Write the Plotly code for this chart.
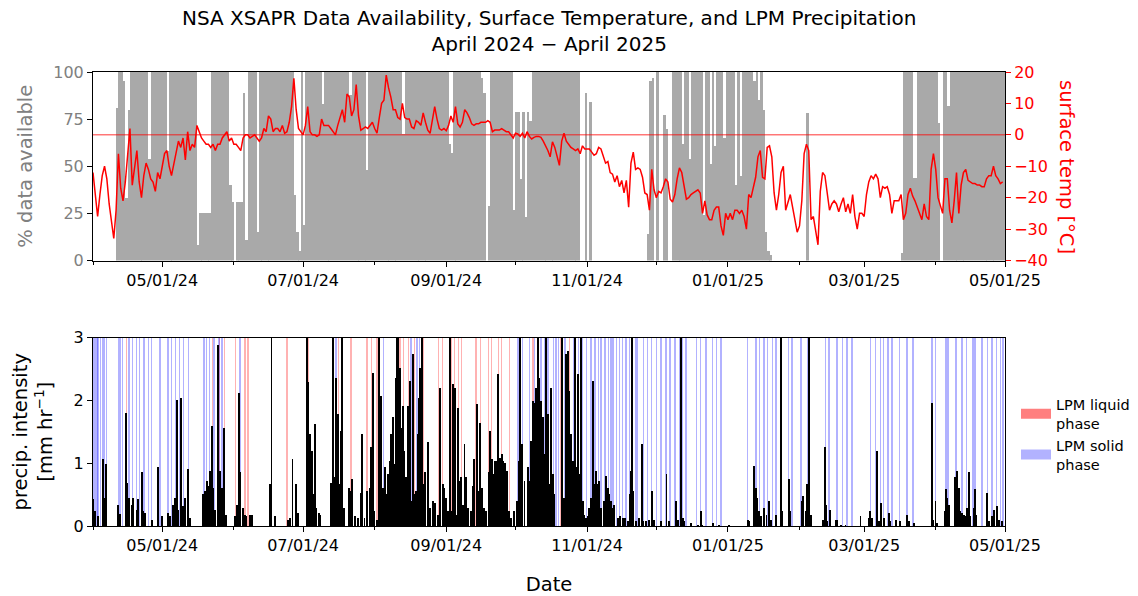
import pandas as pd
import plotly.graph_objects as go
from plotly.subplots import make_subplots

# ---------------- data ----------------
START = "2024-04-01"
END = "2025-05-01"

# daily % of XSAPR data available (one value per day from 2024-04-01)
avail_apr24 = [0,0,0,0,0,0,0,0,0,0, 81,100,100,95,33,80,100,100,100,100,
               100,100,100,100,54,100,100,100,100,100]
avail_may24 = [100,100,58,100,100,100,100,100,100,100, 100,100,100,100,100,8,25,25,25,25,
               25,100,100,100,100,100,100,100,100,40, 31]
avail_jun24 = [0,31,31,31,89,11,100,100,100,100, 15,100,100,100,100,100,100,100,100,100,
               100,100,100,100,100,100,35,15,5,100]
avail_jul24 = [19,100,100,100,100,100,100,100,83,100, 100,100,100,100,100,100,100,100,100,100,
               88,100,100,100,100,100,100,48,100,100, 100]
avail_aug24 = [100,100,100,100,100,100,100,100,100,100, 100,100,67,100,100,100,100,100,100,100,
               100,100,100,100,100,100,100,100,100,100, 100]
avail_sep24 = [100,62,57,100,100,100,100,100,100,100, 100,100,100,100,100,97,89,0,29,100,
               100,100,100,100,100,100,100,100,100,27]
avail_oct24 = [79,79,43,79,23,79,74,100,100,100, 100,100,100,100,100,100,100,100,100,100,
               100,100,100,100,100,100,100,100,0,0, 89]
avail_nov24 = [0,84,0,0,0,0,0,0,0,0, 0,0,0,0,0,0,0,0,0,0,
               0,0,0,0,0,0,14,95,97,0]
avail_dec24 = [100,0,0,77,70,0,0,100,100,100, 100,62,100,100,54,100,100,100,100,100,
               24,100,100,51,100,61,100,100,100,65, 100]
avail_jan25 = [100,100,100,40,100,45,100,100,100,100, 100,95,100,85,100,80,15,5,3,0,
               0,0,0,0,0,0,0,0,0,0, 0]
avail_feb25 = [0,0,0,78,0,0,0,0,0,0, 0,0,0,0,0,0,0,0,0,0,
               0,0,0,0,0,0,0,0]
avail_mar25 = [0,0,0,0,0,0,0,0,0,0, 0,0,0,0,0,0,4,100,100,100,
               100,44,44,100,100,100,100,100,100,100, 100]
avail_apr25 = [100,73,0,100,100,82,100,100,100,100, 100,100,100,100,100,100,100,100,100,100,
               100,100,100,100,100,100,100,100,100,100]

# daily surface temperature [deg C] from 2024-04-01
temp_c = [
    -12,-19,-26,-19,-13,-10,-14,-22,-27,-33, -24,-6,-17,-21,-15,-6,2,-16,-10,-5,
    -15,-20,-13,-9,-11,-14,-15,-18,-12,-14, -10,-6,-5,-10,-13,-9,-6,-2,-4,-1,
    -8,1,-5,-3,-4,3,1,-1,-2,-3, -3,-4,-3,-5,-3,-3,-1,0,1,-2,
    -1,-3,-3,-4,-5,-1,0,0,-1,-0.5, 0,-1,-2,-1,2,1,6,5,1,2,
    2,1,3,0.5,1,4,9,18,8,2, 1,0,3,9,1,0,0,-0.5,0,5,
    3,3,3,2,1,0,3,6,8,4, 13,12,6,8,16,6,1.5,2,2.5,2,
    3,4,2,0.5,5.5,10,11,19,15,12, 8,8,5.5,5,10,5.5,5,5,2.5,2,
    4.5,4,3,7,4,1.5,0.5,5,9,5, 2,1.5,2,1.3,3,6,4,9,3.5,2.5,
    4,8,7,5.5,3.5,3,3.5,3.5,4,4, 4,4.5,4,1,1.5,1.5,1.5,2,1.5,1,
    1,-0.2,-1,0.5,0.3,-0.5,0.5,-1,1,-0.5, -1.3,-0.8,-0.5,-0.5,-0.8,-2,-3.3,-5,-7,-2.2,
    -4,-7,-9.7,-2,0.5,-2,-3,-4,-4.5,-5, -4.5,-6,-3.5,-4.5,-4.5,-4.5,-5.5,-6.5,-6,-4,
    -4.5,-6.5,-9,-8.5,-12,-12.5,-15,-13,-16.5,-14.5, -18.5,-14.5,-23,-9,-5.5,-11,-10.5,-11,-13.5,-18.5,
    -19,-24,-11,-17.5,-20,-18,-18.5,-16.5,-14,-15, -20.5,-21.4,-19,-14,-10.5,-12,-16.6,-20.5,-20,-19,
    -18.5,-18,-17.5,-18.5,-25,-21,-25.5,-27,-27,-24, -23,-23,-29,-32,-25,-27,-25,-27,-24,-24,
    -25,-24,-26,-30,-19,-20,-17,-13.5,-7,-5, -13.5,-14,-4,-3.5,-7,-18.5,-24,-19,-12,-10,
    -24,-21,-19,-23,-27,-31,-29,-21,-6,-3, -5,-27,-26,-31,-35,-18,-12,-13,-19,-24,
    -22,-21,-22,-24.5,-22,-20,-24.5,-22,-25,-19, -26,-30,-25,-25,-26,-19,-15,-13,-14,-12.5,
    -14,-20,-16.5,-17,-16.5,-19,-25,-21,-21,-21, -19,-27,-25,-19,-17,-19.5,-21,-23,-25,-27,
    -22,-26,-27,-11,-6,-11,-20,-23,-25,-14, -14,-24,-28,-21,-12,-25,-16,-12,-11,-14.5,
    -15,-15.5,-15.5,-16,-16,-16.5,-16.5,-14,-13,-13, -10,-13,-14,-15.5,-15,
]

# LPM precipitation intensity peaks: day offset from START, intensity [mm/hr]
precip_day = [
    0.1,0.9,2.3,4.2,4.8,5.5,11.0,11.7,14.3,14.9,15.4,16.7,17.5,18.9,19.6,21.1,21.8,22.5,
    25.4,28.3,29.7,32.6,33.3,34.8,35.5,36.2,36.9,38.0,39.1,39.8,41.3,42.0,47.8,48.5,49.2,
    49.9,50.6,51.4,52.1,52.8,54.3,55.0,55.7,56.9,57.6,61.5,62.2,62.9,63.3,63.9,65.1,65.8,
    66.5,68.0,68.7,76.6,77.3,78.8,84.6,85.3,86.4,87.9,88.9,92.5,92.8,93.2,93.9,94.7,95.7,
    96.2,96.8,97.7,98.3,
    102.9,103.9,104.6,105.3,106.1,106.8,107.5,107.9,108.7,110.7,111.5,112.1,113.3,114.7,
    116.2,116.6,117.6,118.8,119.8,120.5,121.2,121.9,123.1,123.7,124.1,124.8,125.5,126.3,
    127.0,127.7,128.4,129.1,129.9,130.6,131.3,131.7,132.3,132.8,133.5,134.2,134.9,135.6,
    136.4,137.1,137.8,138.5,139.2,140.0,140.7,141.1,141.8,142.4,143.3,143.9,145.0,145.9,
    147.2,148.2,149.3,150.1,150.5,151.5,152.2,153.0,153.7,154.8,155.4,155.8,156.6,157.3,
    158.0,158.7,159.5,160.2,160.9,161.6,162.3,163.8,164.5,165.2,166.4,166.9,167.8,168.5,
    169.3,170.3,171.3,172.0,172.7,173.4,174.2,174.9,175.6,176.3,177.1,177.8,178.5,179.4,
    180.1,181.1,182.5,183.7,184.7,185.1,185.7,186.9,188.3,189.0,189.8,190.5,191.2,191.9,
    192.6,193.4,194.1,194.8,195.5,196.3,197.0,197.7,
    198.4,199.1,199.8,203.1,204.1,204.9,205.6,205.9,206.3,207.0,207.7,208.9,209.2,209.9,
    210.6,211.5,212.1,212.8,213.5,214.2,214.9,215.7,216.4,217.1,217.8,218.6,219.3,220.0,
    221.5,222.2,222.9,223.6,224.3,225.1,225.8,227.2,228.2,229.4,230.4,231.6,232.6,233.0,
    233.4,234.0,235.2,236.6,237.6,238.3,239.5,240.9,242.1,243.1,246.0,248.4,249.3,252.5,
    253.2,254.6,255.4,256.1,259.0,261.9,263.3,264.0,268.4,271.2,275.6,283.5,284.2,286.4,
    287.1,287.8,288.6,289.3,290.7,291.7,292.6,293.6,295.8,
    298.1,298.5,301.4,301.8,307.2,307.6,308.6,309.3,309.9,310.3,310.8,316.3,317.0,317.3,
    318.0,319.4,321.6,322.3,323.8,325.9,332.4,336.0,336.7,337.5,339.6,340.4,341.4,342.5,
    344.7,345.4,347.6,349.7,352.6,353.3,355.5,363.4,363.9,364.9,365.6,368.8,369.5,369.9,
    370.7,373.5,374.3,375.0,375.7,376.4,377.2,377.9,378.6,379.3,380.0,381.5,381.9,382.5,
    387.3,388.0,389.4,390.1,391.5,392.3,393.7,
]
precip_rate = [
    0.43,0.25,0.17,1.07,0.46,1.0,0.35,0.2,1.81,0.7,0.46,0.35,0.46,0.27,0.43,0.86,0.24,0.22,
    0.11,0.95,0.17,0.22,0.17,0.35,0.46,2.01,0.27,2.04,0.33,0.46,0.91,0.14,0.51,0.56,0.72,
    0.64,0.88,1.6,0.62,0.27,2.89,0.88,0.62,1.57,0.19,0.17,0.35,0.19,2.13,0.86,0.3,0.19,
    0.17,0.19,0.19,0.67,3.5,0.17,0.11,0.14,1.07,0.67,0.22,3.5,2.74,2.3,1.47,1.2,0.51,
    1.63,0.3,0.22,0.19,
    0.7,3.5,0.78,2.37,1.79,0.67,1.52,3.5,0.3,0.62,0.56,0.75,0.17,0.14,
    0.54,1.47,0.14,0.56,0.62,1.26,2.45,0.24,0.11,3.5,2.27,2.08,0.62,0.94,
    0.51,0.83,1.04,1.47,1.74,0.99,2.37,3.5,3.5,2.53,1.57,1.92,1.2,0.78,
    1.92,2.32,0.4,2.74,0.51,0.56,1.47,2.05,2.53,3.5,0.67,0.86,1.34,0.3,
    0.4,0.37,0.19,2.21,0.19,0.67,0.62,0.46,0.24,3.5,0.24,2.27,2.21,0.19,
    1.89,0.72,0.78,0.35,1.31,0.78,0.3,0.24,0.64,1.07,1.95,0.56,1.65,0.62,
    0.3,0.24,0.86,1.52,1.07,0.83,1.04,1.04,2.43,1.09,1.15,1.04,1.01,0.88,
    0.24,0.14,0.24,0.4,1.04,3.5,1.31,0.72,0.94,0.72,1.36,2.0,1.97,2.21,
    3.5,2.37,2.0,1.74,1.15,3.5,1.79,0.67,
    2.21,0.83,0.51,3.5,0.46,2.74,2.24,2.8,2.16,1.47,1.04,3.5,0.94,2.43,
    0.83,3.5,0.4,0.19,0.14,0.16,0.3,0.46,2.32,0.67,0.88,0.67,0.72,0.3,
    0.4,0.8,0.62,0.51,0.4,0.3,0.35,0.14,0.16,0.14,0.14,0.09,0.51,0.88,
    3.5,0.56,0.09,0.14,1.31,0.09,0.09,0.11,0.56,0.11,0.09,0.83,0.09,0.4,
    0.11,3.5,0.14,0.09,0.06,0.03,0.24,0.03,0.06,0.03,0.02,0.11,0.09,0.96,
    0.62,0.46,0.24,0.16,0.3,0.19,0.4,0.11,0.19,
    3.5,0.24,0.75,0.24,0.4,0.48,0.24,0.67,0.75,3.5,0.19,0.11,1.26,0.35,
    0.09,0.27,0.11,0.11,0.03,0.03,0.16,0.14,0.24,0.14,1.2,0.09,0.37,0.14,
    0.22,0.09,0.11,0.09,0.19,0.09,0.06,1.97,0.11,0.4,0.06,0.24,0.59,0.46,
    0.35,0.78,0.88,0.62,0.24,0.22,0.19,0.16,0.3,0.86,0.16,0.3,0.59,0.19,
    0.54,0.09,0.16,0.27,0.32,0.11,0.09,
]

# times (day offset from START) when the LPM reported liquid / solid precipitation
liquid_phase_day = [
    14.6,51.7,54.7,57.0,61.8,65.9,67.2,84.1,93.2,103.7,106.3,107.8,111.8,118.6,120.5,
    123.0,124.1,131.7,133.0,134.6,136.7,139.2,143.1,149.6,151.5,155.4,156.6,158.3,159.7,
    165.9,167.7,171.3,172.7,175.6,176.8,180.4,190.5,202.7,206.3,
]
solid_phase_day = [
    0.1,0.6,1.2,1.7,2.2,3.3,4.0,4.6,5.1,5.9,11.3,12.0,12.7,15.6,17.2,18.9,20.1,22.1,24.0,
    25.4,29.0,32.5,34.1,35.8,37.4,39.1,41.3,48.1,49.2,50.4,52.4,54.5,55.8,63.6,105.3,
    125.8,137.8,140.3,141.4,184.0,186.1,189.0,191.2,192.6,194.1,195.5,197.0,199.4,200.5,
    201.7,204.4,208.0,210.2,212.1,213.8,215.7,217.4,218.9,220.0,221.7,223.2,224.3,225.3,
    226.8,227.9,229.4,230.8,232.3,233.7,235.2,235.9,238.3,240.2,241.9,244.1,246.0,248.1,
    249.9,252.0,253.9,255.4,256.8,261.4,263.0,265.5,268.4,270.1,272.0,283.5,287.1,288.6,
    290.7,292.2,294.3,295.8,298.1,301.2,302.8,306.7,309.6,317.3,318.7,322.3,324.5,326.6,
    328.8,336.7,338.9,341.1,342.5,344.3,346.1,349.4,352.6,355.2,363.4,364.9,369.3,369.9,
    370.5,373.8,376.4,378.2,380.8,381.3,381.8,382.2,385.1,387.3,389.3,391.3,393.0,394.2,
]

# ---------------- build ----------------
availability_pct = (avail_apr24 + avail_may24 + avail_jun24 + avail_jul24 + avail_aug24 +
                    avail_sep24 + avail_oct24 + avail_nov24 + avail_dec24 + avail_jan25 +
                    avail_feb25 + avail_mar25 + avail_apr25)

t0 = pd.Timestamp(START)
days = pd.date_range(START, periods=len(availability_pct), freq="D")
day_mid = days + pd.Timedelta(hours=12)
temp_t = pd.date_range(START, periods=len(temp_c), freq="D")
to_time = lambda offs: [t0 + pd.Timedelta(days=d) for d in offs]

DAY_MS = 86400000
PRECIP_TOP = 3

FONT = "DejaVu Sans"
fig = make_subplots(rows=2, cols=1, specs=[[{"secondary_y": True}], [{"secondary_y": False}]],
                    vertical_spacing=77 / 454)

fig.add_trace(go.Bar(x=day_mid, y=availability_pct, width=1.05 * DAY_MS, marker_color="#a9a9a9",
                     marker_line_width=0, showlegend=False), row=1, col=1, secondary_y=False)
fig.add_trace(go.Scatter(x=temp_t, y=temp_c, mode="lines", line=dict(color="red", width=1.5),
                         showlegend=False), row=1, col=1, secondary_y=True)
fig.add_hline(y=0, line=dict(color="rgba(255,0,0,0.8)", width=1), row=1, col=1, secondary_y=True)

fig.add_trace(go.Bar(x=to_time(liquid_phase_day), y=[PRECIP_TOP] * len(liquid_phase_day),
                     width=0.6 * DAY_MS, marker_color="rgba(255,0,0,0.3)", marker_line_width=0,
                     showlegend=False), row=2, col=1)
fig.add_trace(go.Bar(x=to_time(solid_phase_day), y=[PRECIP_TOP] * len(solid_phase_day),
                     width=0.6 * DAY_MS, marker_color="rgba(0,0,255,0.3)", marker_line_width=0,
                     showlegend=False), row=2, col=1)
fig.add_trace(go.Bar(x=to_time(precip_day), y=precip_rate, width=0.4 * DAY_MS,
                     marker_color="black", marker_line_width=0, showlegend=False), row=2, col=1)

# legend entries
fig.add_trace(go.Scatter(x=[None], y=[None], mode="lines", name="LPM liquid<br>phase",
                         line=dict(color="rgba(255,0,0,0.5)", width=10)), row=2, col=1)
fig.add_trace(go.Scatter(x=[None], y=[None], mode="lines", name="LPM solid<br>phase",
                         line=dict(color="rgba(0,0,255,0.3)", width=10)), row=2, col=1)

xcommon = dict(type="date", range=[START, END], domain=[0, 1], tickformat="%m/%d/%y", dtick="M2",
               tick0="2024-05-01", ticks="outside", ticklen=5, tickcolor="black",
               showline=True, linecolor="black", linewidth=1, mirror=True, showgrid=False,
               tickfont=dict(size=16, color="black"),
               minor=dict(dtick="M1", tick0="2024-04-01", ticks="outside", ticklen=3,
                          tickcolor="black", showgrid=False))
fig.update_xaxes(**xcommon)
fig.update_xaxes(title=dict(text="Date", font=dict(size=19.5), standoff=40), row=2, col=1)

fig.update_yaxes(range=[0, 100], tickvals=[0, 25, 50, 75, 100], ticks="outside", ticklen=5,
                 tickcolor="black", showline=True, linecolor="black", showgrid=False, zeroline=False,
                 tickfont=dict(size=16, color="gray"),
                 title=dict(text="% data available", font=dict(size=19.5, color="gray")),
                 row=1, col=1, secondary_y=False)
fig.update_yaxes(range=[-40, 20], dtick=10, ticks="outside", ticklen=5, tickcolor="red",
                 showline=True, linecolor="black", showgrid=False, zeroline=False,
                 tickfont=dict(size=16, color="red"), row=1, col=1, secondary_y=True)
fig.update_yaxes(range=[0, PRECIP_TOP], dtick=1, ticks="outside", ticklen=5, tickcolor="black",
                 showline=True, linecolor="black", mirror=True, showgrid=False, zeroline=False,
                 tickfont=dict(size=16, color="black"),
                 title=dict(text="precip. intensity<br>[mm hr<sup>−1</sup>]", font=dict(size=19.5)),
                 row=2, col=1)

fig.add_annotation(text="surface temp [°C]", textangle=90, xref="paper", yref="paper",
                   x=(1067 - 93) / 912, y=(526 - 167) / 454, xanchor="center", yanchor="middle",
                   showarrow=False, font=dict(size=19.5, color="red", family=FONT))
fig.add_annotation(text="NSA XSAPR Data Availability, Surface Temperature, and LPM Precipitation"
                        "<br>April 2024 − April 2025",
                   xref="paper", yref="paper", x=0.5, y=(526 - 4) / 454,
                   xanchor="center", yanchor="top", showarrow=False,
                   font=dict(size=20, color="black", family=FONT))

fig.update_layout(
    width=1138, height=596,
    margin=dict(l=93, r=133, t=72, b=70, autoexpand=False),
    paper_bgcolor="white", plot_bgcolor="white",
    font=dict(family=FONT, color="black"),
    barmode="overlay", bargap=0, bargroupgap=0,
    legend=dict(x=(1016 - 93) / 912, xanchor="left", y=0.303, yanchor="top",
                font=dict(size=14.5), bgcolor="rgba(0,0,0,0)", itemwidth=30),
)

fig.write_html("out.html")
